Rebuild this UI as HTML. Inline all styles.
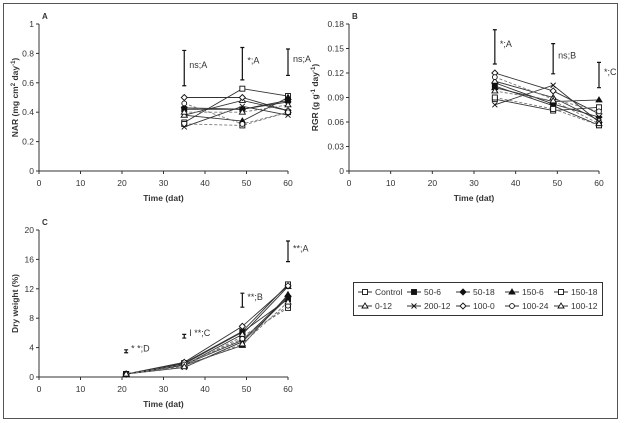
<!DOCTYPE html>
<html><head><meta charset="utf-8"><style>
body{margin:0;background:#fff;}
svg{display:block;font-family:"Liberation Sans",sans-serif;}
text{fill:#333;}
</style></head><body>
<svg id="s" width="627" height="423">
<rect x="3.5" y="3.5" width="614" height="415" fill="#fff" stroke="#555"/>
</svg>
<script>
const names=["Control","50-6","50-18","150-6","150-18","0-12","200-12","100-0","100-24","100-12"];
const markers=["osq","fsq","fdi","ftr","osq","otr","x","odi","oci","otr"];
const dashes=[0,0,0,0,1,0,0,0,1,1];
const tA=[35,49,60];
const nar35=[0.33,0.42,0.43,0.38,0.32,0.38,0.30,0.50,0.46,0.40];
const nar49=[0.56,0.42,0.42,0.34,0.31,0.48,0.44,0.50,0.32,0.40];
const nar60=[0.51,0.48,0.47,0.50,0.40,0.41,0.38,0.41,0.40,0.45];
const rgr35=[0.088,0.104,0.108,0.102,0.090,0.110,0.081,0.120,0.115,0.098];
const rgr49=[0.074,0.080,0.082,0.085,0.076,0.090,0.105,0.098,0.088,0.086];
const rgr60=[0.078,0.056,0.066,0.087,0.056,0.062,0.060,0.070,0.073,0.058];
const tC=[21,35,49,60];
const dw21=[0.4,0.4,0.4,0.4,0.4,0.4,0.4,0.4,0.4,0.4];
const dw35=[1.9,1.8,1.7,1.6,1.5,1.6,1.3,2.0,1.7,1.4];
const dw49=[6.2,6.1,5.0,4.3,5.5,5.8,4.8,6.9,5.2,4.5];
const dw60=[12.6,10.6,11.0,11.2,9.4,12.3,10.8,12.4,9.7,10.2];
const xTicks=[0,10,20,30,40,50,60];
const yTicksA=[0,0.2,0.4,0.6,0.8,1];
const yTicksB=[0,0.03,0.06,0.09,0.12,0.15,0.18];
const yTicksC=[0,4,8,12,16,20];
const barsA=[[35,0.58,0.82,"ns;A"],[49,0.62,0.84,"*;A"],[60,0.65,0.83,"ns;A"]];
const barsB=[[35,0.131,0.173,"*;A"],[49,0.119,0.156,"ns;B"],[60,0.102,0.133,"*;C"]];
const barsC=[[21,3.3,3.7,"* *;D"],[35,5.3,5.8,"I **;C"],[49,9.5,11.4,"**;B"],[60,15.7,18.5,"**;A"]];
const S=document.getElementById('s');const NS="http://www.w3.org/2000/svg";
function el(t,a,p){const e=document.createElementNS(NS,t);for(const k in a)e.setAttribute(k,a[k]);(p||S).appendChild(e);return e;}
function marker(g,m,x,y){let e;
 if(m=="osq"||m=="fsq")e=el('rect',{x:x-2.5,y:y-2.5,width:5,height:5,fill:m=="fsq"?"#111":"#fff",stroke:"#111","stroke-width":0.9},g);
 else if(m=="fdi"||m=="odi")e=el('polygon',{points:`${x},${y-3} ${x+3},${y} ${x},${y+3} ${x-3},${y}`,fill:m=="fdi"?"#111":"#fff",stroke:"#111","stroke-width":0.9},g);
 else if(m=="ftr"||m=="otr")e=el('polygon',{points:`${x},${y-3} ${x+3},${y+2} ${x-3},${y+2}`,fill:m=="ftr"?"#111":"#fff",stroke:"#111","stroke-width":0.9},g);
 else if(m=="oci")e=el('circle',{cx:x,cy:y,r:2.4,fill:"#fff",stroke:"#111","stroke-width":0.9},g);
 else e=el('path',{d:`M${x-2.5} ${y-2.5}L${x+2.5} ${y+2.5}M${x+2.5} ${y-2.5}L${x-2.5} ${y+2.5}`,stroke:"#111","stroke-width":0.9},g);
 
 }
function panel(id,x0,x1,y0,y1,ymax,yt,fmt,ts,cols,bars,ylab,xlab,lx){
 const g=el('g',{});
 
 
 const X=v=>x0+(x1-x0)*v/60,Y=v=>y0-(y0-y1)*v/ymax;
 el('line',{x1:x0,y1:y0,x2:x0,y2:y1,stroke:"#333"},g);
 el('line',{x1:x0,y1:y0,x2:x1,y2:y0,stroke:"#333"},g);
 xTicks.forEach(v=>{el('line',{x1:X(v),y1:y0,x2:X(v),y2:y0+3,stroke:"#333"},g);const t=el('text',{x:X(v),y:y0+15,"font-size":8.5,"text-anchor":"middle"},g);t.textContent=v;});
 yt.forEach(v=>{el('line',{x1:x0-3,y1:Y(v),x2:x0,y2:Y(v),stroke:"#333"},g);const t=el('text',{x:x0-5,y:Y(v)+3,"font-size":8.5,"text-anchor":"end"},g);t.textContent=fmt(v);});
 let t=el('text',{x:x0+3,y:y1-5,"font-size":8,"font-weight":"bold"},g);t.textContent=id;
 t=el('text',{x:(x0+x1)/2,y:y0+30,"font-size":8.5,"font-weight":"bold","text-anchor":"middle"},g);t.textContent=xlab;
 t=el('text',{transform:`translate(${lx},${(y0+y1)/2}) rotate(-90)`,"font-size":8.5,"font-weight":"bold","text-anchor":"middle"},g);t.innerHTML=ylab;
 names.forEach((n,i)=>{const pts=cols.map((c,j)=>[X(ts[j]),Y(c[i])]);
  const p=el('polyline',{points:pts.map(q=>q.join(',')).join(' '),fill:"none",stroke:dashes[i]?"#777":"#333","stroke-width":0.9,"stroke-dasharray":dashes[i]?"3,2":"none"},g);
  
  
  pts.forEach(q=>marker(g,markers[i],q[0],q[1]));});
 bars.forEach(b=>{const x=X(b[0]);el('path',{d:`M${x-2} ${Y(b[1])}H${x+2}M${x} ${Y(b[1])}V${Y(b[2])}M${x-2} ${Y(b[2])}H${x+2}`,stroke:"#111","stroke-width":1.2},g);
  const tt=el('text',{x:x+5,y:(Y(b[1])+Y(b[2]))/2,"font-size":9},g);tt.textContent=b[3];});
}
panel('A',39,288,171,24,1,yTicksA,v=>v,tA,[nar35,nar49,nar60],barsA,'NAR (mg cm<tspan font-size="6" dy="-3">2</tspan><tspan dy="3"> day</tspan><tspan font-size="6" dy="-3">-1</tspan><tspan dy="3">)</tspan>','Time (dat)',18);
panel('B',349,599,171,24,0.18,yTicksB,v=>v,tA,[rgr35,rgr49,rgr60],barsB,'RGR (g g<tspan font-size="6" dy="-3">-1</tspan><tspan dy="3"> day</tspan><tspan font-size="6" dy="-3">-1</tspan><tspan dy="3">)</tspan>','Time (dat)',318);
panel('C',39,288,377,230,20,yTicksC,v=>v,tC,[dw21,dw35,dw49,dw60],barsC,'Dry weight (%)','Time (dat)',18);
const lg=el('g',{});


el('rect',{x:353.5,y:282.5,width:249,height:33,fill:"#fff",stroke:"#333"},lg);
names.forEach((n,i)=>{const c=i%5,r=Math.floor(i/5);const x=358+c*49,y=292+r*14;
 const e=el('g',{},lg);
 
 
 el('line',{x1:x,y1:y,x2:x+14,y2:y,stroke:"#333"},e);marker(e,markers[i],x+7,y);
 const t=el('text',{x:x+17,y:y+3,"font-size":8.5},e);t.textContent=n;});
</script>
</body></html>
